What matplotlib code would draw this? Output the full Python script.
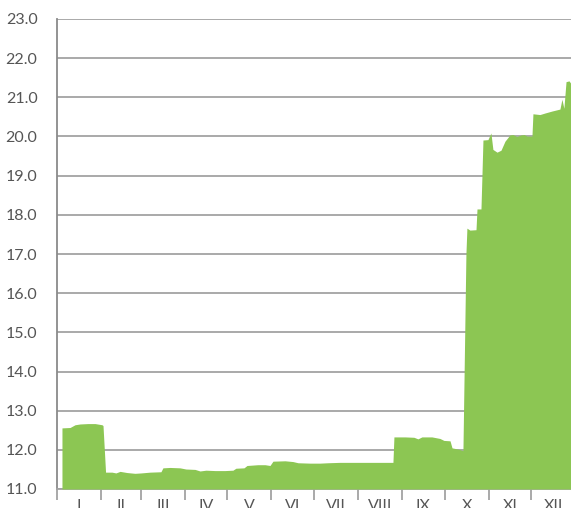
import matplotlib.pyplot as plt
import matplotlib.ticker as mt

# day of year (0 = 1 January) and value
days = [3.5, 9.2, 12.7, 16.2, 21.8, 26.8, 31.7, 32.4, 34.2, 38.7, 41.5, 44.4,
        49.3, 54.9, 59.2, 65.5, 73.2, 74.6, 79.6, 86.6, 90.8, 97.2, 100.7,
        104.9, 111.3, 118.3, 123.9, 126.0, 131.7, 133.8, 141.5, 146.5, 150.0,
        152.1, 160.6, 166.2, 169.7, 178.2, 185.2, 190.8, 199.3, 213.4, 227.5,
        236.6, 237.3, 245.0, 251.4, 254.2, 257.0, 264.0, 269.7, 272.5, 276.8,
        278.2, 282.4, 285.9, 288.0, 288.7, 290.8, 295.1, 295.8, 298.6, 300.0,
        303.5, 305.6, 307.0, 309.9, 312.7, 315.5, 319.0, 321.1, 323.9, 326.8,
        328.9, 331.0, 334.5, 335.2, 340.1, 343.7, 348.6, 354.2, 355.6, 357.0,
        358.5, 360.6, 362.0]
values = [12.56, 12.57, 12.64, 12.66, 12.67, 12.67, 12.64, 12.62, 11.43, 11.43,
          11.41, 11.45, 11.42, 11.40, 11.41, 11.43, 11.44, 11.54, 11.55, 11.54,
          11.51, 11.50, 11.46, 11.48, 11.47, 11.47, 11.48, 11.53, 11.54, 11.60,
          11.62, 11.62, 11.60, 11.71, 11.72, 11.70, 11.67, 11.66, 11.66, 11.67,
          11.68, 11.68, 11.68, 11.68, 12.33, 12.33, 12.32, 12.28, 12.33, 12.33,
          12.29, 12.24, 12.23, 12.05, 12.02, 11.98, 17.00, 17.66, 17.61, 17.62,
          18.15, 18.15, 19.91, 19.92, 20.09, 19.67, 19.60, 19.65, 19.88, 20.04,
          20.05, 20.00, 20.04, 20.05, 20.01, 20.01, 20.58, 20.56, 20.60, 20.65,
          20.70, 20.95, 20.72, 21.40, 21.42, 21.35]

month_starts = [0, 31, 59, 90, 120, 151, 181, 212, 243, 273, 304, 334]
month_labels = ['I', 'II', 'III', 'IV', 'V', 'VI', 'VII', 'VIII', 'IX', 'X', 'XI', 'XII']

green = '#8cc653'
grey = '#a3a3a3'

fig = plt.figure(figsize=(5.71, 5.08), dpi=100)
ax = fig.add_axes([57 / 571, 19 / 508, 514 / 571, 470 / 508])

ax.fill_between(days, values, 11, color=green, linewidth=0, zorder=3)

ax.set_xlim(0, 362)
ax.set_ylim(11, 23)

ax.yaxis.set_major_locator(mt.MultipleLocator(1))
ax.yaxis.set_major_formatter(mt.FormatStrFormatter('%.1f'))
ax.grid(axis='y', color=grey, linewidth=1.3, zorder=1)

# month boundaries as ticks, names centred between them
mids = [(a + b) / 2 for a, b in zip(month_starts, month_starts[1:] + [365])]
ax.set_xticks(month_starts)
ax.set_xticklabels([])
ax.set_xticks(mids, minor=True)
ax.set_xticklabels(month_labels, minor=True)
ax.tick_params(axis='x', which='major', length=8, width=1.3, color=grey)
ax.tick_params(axis='x', which='minor', length=0, pad=7)
ax.tick_params(axis='y', length=0, pad=14)

for lab in ax.get_xticklabels(minor=True) + ax.get_yticklabels():
    lab.set_fontfamily('Lato')
    lab.set_fontsize(11.5)
    lab.set_color('#555555')

for side in ['top', 'right']:
    ax.spines[side].set_visible(False)
ax.spines['left'].set_color('#8a8a8a')
ax.spines['left'].set_linewidth(1.3)
ax.spines['bottom'].set_color(grey)
ax.spines['bottom'].set_linewidth(1.3)

fig.savefig('out.png', dpi=100)
